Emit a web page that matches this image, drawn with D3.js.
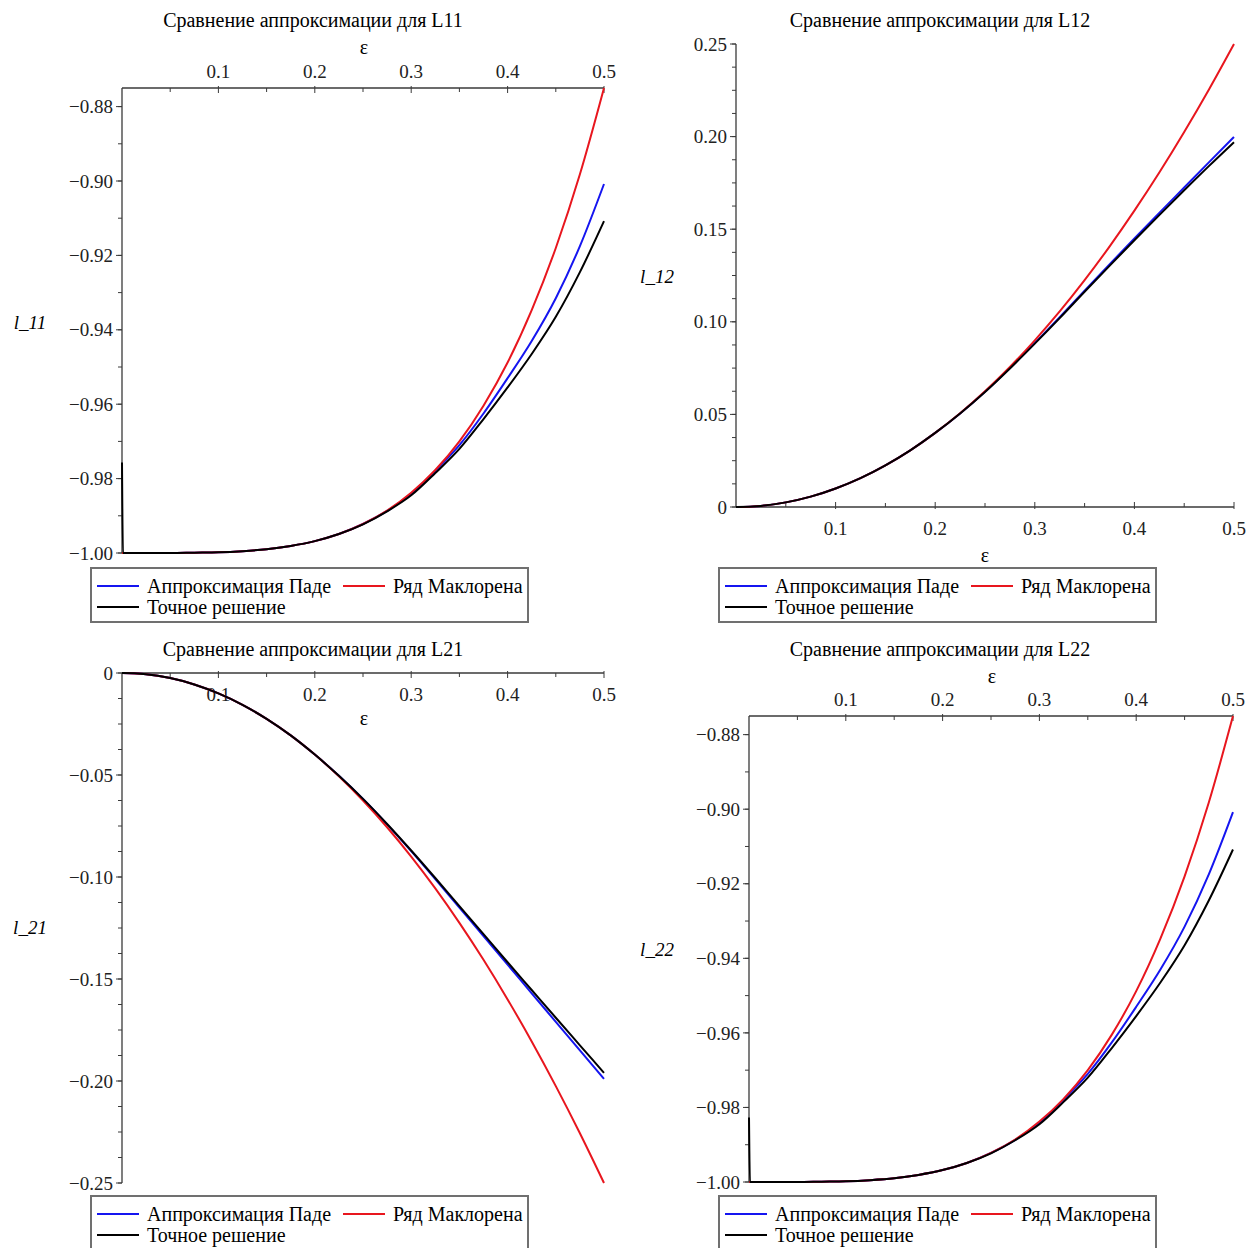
<!DOCTYPE html>
<html>
<head>
<meta charset="utf-8">
<script src="https://cdn.jsdelivr.net/npm/d3@7"></script>
<style>
  body { margin: 0; background: #fff; }
  svg { display: block; font-family: "Liberation Serif", "Times New Roman", serif; }
</style>
</head>
<body>
<div id="chart"></div>
<script>
// epsilon grid
const eps = [0, 0.025, 0.05, 0.075, 0.1, 0.125, 0.15, 0.175, 0.2, 0.225, 0.25,
             0.275, 0.3, 0.325, 0.35, 0.375, 0.4, 0.425, 0.45, 0.475, 0.5];
// exact solution has a spike at eps = 0
const epsExact = [0, 0.001, 0.025, 0.05, 0.075, 0.1, 0.125, 0.15, 0.175, 0.2, 0.225, 0.25,
                  0.275, 0.3, 0.325, 0.35, 0.375, 0.4, 0.425, 0.45, 0.475, 0.5];

// L11
const l11Pade = [-1, -1, -1, -0.9999, -0.9998, -0.9995, -0.999, -0.9981, -0.9968, -0.9949, -0.9922,
                 -0.9887, -0.9841, -0.9779, -0.9710, -0.9625, -0.9530, -0.9430, -0.9315, -0.9175, -0.9008];
const l11Maclaurin = [-1, -1, -1, -0.9999, -0.9998, -0.9995, -0.999, -0.9981, -0.9968, -0.9949, -0.9922,
                      -0.9886, -0.9838, -0.9777, -0.9700, -0.9604, -0.9488, -0.9347, -0.9180, -0.8982, -0.8750];
const l11Exact = [-0.9757, -1, -1, -1, -0.9999, -0.9998, -0.9995, -0.999, -0.9981, -0.9968, -0.9949, -0.9923,
                  -0.9888, -0.9845, -0.9785, -0.9720, -0.9640, -0.9555, -0.9465, -0.9365, -0.9245, -0.9108];

// L12
const l12Pade = [0, 0.0006, 0.0025, 0.0056, 0.0100, 0.0156, 0.0225, 0.0306, 0.0400, 0.0505, 0.0622,
                 0.0750, 0.0885, 0.1025, 0.1168, 0.1310, 0.1450, 0.1588, 0.1725, 0.1862, 0.1998];
const l12Maclaurin = [0, 0.0006, 0.0025, 0.0056, 0.0100, 0.0156, 0.0225, 0.0306, 0.0400, 0.0506, 0.0625,
                      0.0756, 0.0900, 0.1056, 0.1225, 0.1406, 0.1600, 0.1806, 0.2025, 0.2256, 0.2500];
const l12Exact = [0, 0, 0.0006, 0.0025, 0.0056, 0.0100, 0.0156, 0.0225, 0.0306, 0.0400, 0.0505, 0.0621,
                  0.0748, 0.0882, 0.1020, 0.1162, 0.1302, 0.1440, 0.1576, 0.1710, 0.1842, 0.1970];

// L21
const l21Pade = [0, -0.0006, -0.0025, -0.0056, -0.0100, -0.0156, -0.0225, -0.0306, -0.0400, -0.0504, -0.0618,
                 -0.0742, -0.0873, -0.1010, -0.1150, -0.1290, -0.1430, -0.1570, -0.1710, -0.1850, -0.1990];
const l21Maclaurin = [0, -0.0006, -0.0025, -0.0056, -0.0100, -0.0156, -0.0225, -0.0306, -0.0400, -0.0506, -0.0625,
                      -0.0756, -0.0900, -0.1056, -0.1225, -0.1406, -0.1600, -0.1806, -0.2025, -0.2256, -0.2500];
const l21Exact = [0, 0, -0.0006, -0.0025, -0.0056, -0.0100, -0.0156, -0.0225, -0.0306, -0.0400, -0.0504, -0.0617,
                  -0.0740, -0.0870, -0.1005, -0.1143, -0.1280, -0.1418, -0.1554, -0.1690, -0.1825, -0.1960];

// L22
const l22Pade = [-1, -1, -1, -0.9999, -0.9998, -0.9995, -0.999, -0.9981, -0.9968, -0.9949, -0.9922,
                 -0.9887, -0.9841, -0.9779, -0.9710, -0.9625, -0.9530, -0.9430, -0.9315, -0.9175, -0.9008];
const l22Maclaurin = [-1, -1, -1, -0.9999, -0.9998, -0.9995, -0.999, -0.9981, -0.9968, -0.9949, -0.9922,
                      -0.9886, -0.9838, -0.9777, -0.9700, -0.9604, -0.9488, -0.9347, -0.9180, -0.8982, -0.8750];
const l22Exact = [-0.9827, -1, -1, -1, -0.9999, -0.9998, -0.9995, -0.999, -0.9981, -0.9968, -0.9949, -0.9923,
                  -0.9888, -0.9845, -0.9785, -0.9720, -0.9640, -0.9555, -0.9465, -0.9365, -0.9245, -0.9108];

// ticks
const xTicks = [0.1, 0.2, 0.3, 0.4, 0.5];
const xMinor = [0.05, 0.15, 0.25, 0.35, 0.45];
const yTicksDiag = [-1.00, -0.98, -0.96, -0.94, -0.92, -0.90, -0.88];
const yTicks12 = [0, 0.05, 0.10, 0.15, 0.20, 0.25];
const yTicks21 = [0, -0.05, -0.10, -0.15, -0.20, -0.25];

const seriesNames = ["Аппроксимация Паде", "Ряд Маклорена", "Точное решение"];
const colors = ["#1515f0", "#e8161e", "#000000"];

const panels = [
  { title: "Сравнение аппроксимации для L11", ylab: "l_11", pade: l11Pade, mac: l11Maclaurin, exact: l11Exact,
    yTicks: yTicksDiag, yMinorStep: 0.01, box: [122, 604, 88, 553], xAxisTop: true, xLabAbove: true,
    titlePos: [313, 27], epsPos: [364, 54], ylabPos: [30, 329], legend: [91, 568] },
  { title: "Сравнение аппроксимации для L12", ylab: "l_12", pade: l12Pade, mac: l12Maclaurin, exact: l12Exact,
    yTicks: yTicks12, yMinorStep: 0.0125, box: [736, 1234, 44, 507], xAxisTop: false, xLabAbove: false,
    titlePos: [940, 27], epsPos: [985, 562], ylabPos: [657, 283], legend: [719, 568] },
  { title: "Сравнение аппроксимации для L21", ylab: "l_21", pade: l21Pade, mac: l21Maclaurin, exact: l21Exact,
    yTicks: yTicks21, yMinorStep: 0.0125, box: [122, 604, 673, 1183], xAxisTop: true, xLabAbove: false,
    titlePos: [313, 656], epsPos: [364, 725], ylabPos: [30, 934], legend: [91, 1196] },
  { title: "Сравнение аппроксимации для L22", ylab: "l_22", pade: l22Pade, mac: l22Maclaurin, exact: l22Exact,
    yTicks: yTicksDiag, yMinorStep: 0.01, box: [749, 1233, 716, 1182], xAxisTop: true, xLabAbove: true,
    titlePos: [940, 656], epsPos: [992, 683], ylabPos: [657, 956], legend: [719, 1196] }
];

const width = 1255, height = 1248;
const svg = d3.select("#chart").append("svg")
  .attr("width", width)
  .attr("height", height);

const fmtY = v => v === 0 ? "0" : (v < 0 ? "\u2212" : "") + Math.abs(v).toFixed(2);
const axisColor = "#3a3a3a";

panels.forEach(p => {
  const [x0, x1, y0, y1] = p.box;
  const all = p.pade.concat(p.mac, p.exact);
  const yExt = d3.extent(all);
  const x = d3.scaleLinear().domain([0, 0.5]).range([x0, x1]);
  const y = d3.scaleLinear().domain(yExt).range([y1, y0]);
  const g = svg.append("g");

  // title
  g.append("text").attr("x", p.titlePos[0]).attr("y", p.titlePos[1])
    .attr("text-anchor", "middle").attr("font-size", 20).text(p.title);

  // x axis line
  const xAxisY = p.xAxisTop ? y0 : y1;
  g.append("line").attr("x1", x0).attr("x2", x1).attr("y1", xAxisY).attr("y2", xAxisY)
    .attr("stroke", axisColor).attr("stroke-width", 1.3);
  const tickDir = p.xAxisTop ? 1 : -1;
  xTicks.forEach(t => {
    g.append("line").attr("x1", x(t)).attr("x2", x(t))
      .attr("y1", xAxisY - 2 * tickDir).attr("y2", xAxisY + 5 * tickDir)
      .attr("stroke", axisColor).attr("stroke-width", 1);
    g.append("text").attr("x", x(t))
      .attr("y", p.xLabAbove ? xAxisY - 10 : xAxisY + 28)
      .attr("text-anchor", "middle").attr("font-size", 19).attr("fill", "#222")
      .text(d3.format(".1f")(t));
  });
  xMinor.forEach(t => {
    g.append("line").attr("x1", x(t)).attr("x2", x(t))
      .attr("y1", xAxisY).attr("y2", xAxisY + 4 * tickDir)
      .attr("stroke", axisColor).attr("stroke-width", 1);
  });
  g.append("text").attr("x", p.epsPos[0]).attr("y", p.epsPos[1])
    .attr("text-anchor", "middle").attr("font-size", 20).text("ε");

  // y axis
  g.append("line").attr("x1", x0).attr("x2", x0).attr("y1", y0).attr("y2", y1)
    .attr("stroke", axisColor).attr("stroke-width", 1.3);
  p.yTicks.forEach(t => {
    g.append("line").attr("x1", x0 - 6).attr("x2", x0).attr("y1", y(t)).attr("y2", y(t))
      .attr("stroke", axisColor).attr("stroke-width", 1);
    g.append("text").attr("x", x0 - 9).attr("y", y(t)).attr("dy", "0.35em")
      .attr("text-anchor", "end").attr("font-size", 19).attr("fill", "#222")
      .text(fmtY(t));
  });
  const minor = d3.range(Math.ceil(yExt[0] / p.yMinorStep - 1e-6), Math.floor(yExt[1] / p.yMinorStep + 1e-6) + 1)
    .map(k => k * p.yMinorStep);
  minor.forEach(t => {
    g.append("line").attr("x1", x0 - 4).attr("x2", x0).attr("y1", y(t)).attr("y2", y(t))
      .attr("stroke", axisColor).attr("stroke-width", 1);
  });
  g.append("text").attr("x", p.ylabPos[0]).attr("y", p.ylabPos[1])
    .attr("text-anchor", "middle").attr("font-size", 19).attr("font-style", "italic").text(p.ylab);

  // curves
  const line = d3.line().x(d => x(d[0])).y(d => y(d[1])).curve(d3.curveMonotoneX);
  const series = [
    { xs: eps, ys: p.pade, c: colors[0] },
    { xs: eps, ys: p.mac, c: colors[1] },
    { xs: epsExact, ys: p.exact, c: colors[2] }
  ];
  series.forEach(s => {
    g.append("path").datum(d3.zip(s.xs, s.ys))
      .attr("d", line).attr("fill", "none")
      .attr("stroke", s.c).attr("stroke-width", 2);
  });

  // legend
  const [lx, ly] = p.legend;
  g.append("rect").attr("x", lx).attr("y", ly).attr("width", 437).attr("height", 54)
    .attr("fill", "none").attr("stroke", "#707070").attr("stroke-width", 2);
  const items = [
    { dx: 6, dy: 18, i: 0 },
    { dx: 252, dy: 18, i: 1 },
    { dx: 6, dy: 39, i: 2 }
  ];
  items.forEach(it => {
    g.append("line").attr("x1", lx + it.dx).attr("x2", lx + it.dx + 42)
      .attr("y1", ly + it.dy).attr("y2", ly + it.dy)
      .attr("stroke", colors[it.i]).attr("stroke-width", 2);
    g.append("text").attr("x", lx + it.dx + 50).attr("y", ly + it.dy).attr("dy", "0.35em")
      .attr("font-size", 20).text(seriesNames[it.i]);
  });
});
</script>
</body>
</html>
